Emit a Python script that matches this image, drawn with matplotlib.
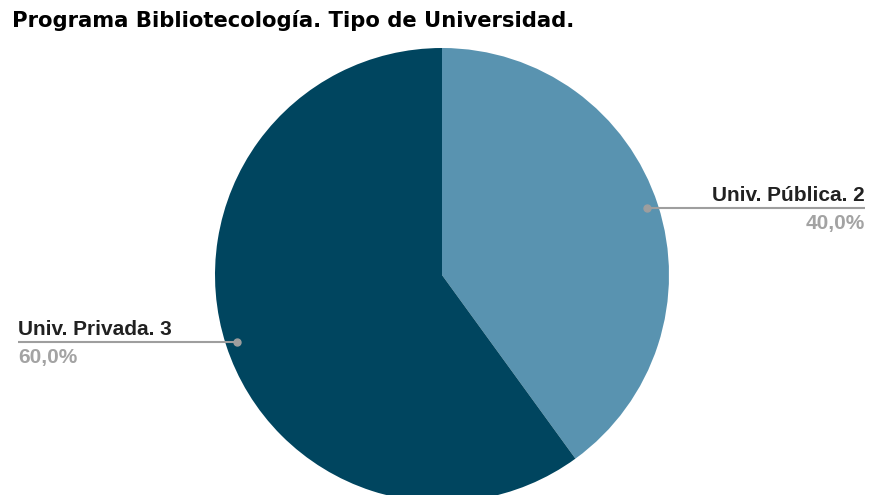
import matplotlib
matplotlib.use("Agg")
import matplotlib.pyplot as plt
import numpy as np

# datos
labels = ["Univ. Pública", "Univ. Privada"]
counts = [2, 3]
colors = ["#5993b0", "#00455f"]

W, H = 870, 495
fig = plt.figure(figsize=(W / 100, H / 100), dpi=100)
ax = fig.add_axes([0, 0, 1, 1])

cx, cy, r = 442, H - 275, 227
wedges, _ = ax.pie(counts, colors=colors, startangle=90, counterclock=False,
                   center=(cx, cy), radius=r, wedgeprops=dict(linewidth=0))
ax.set_xlim(0, W)
ax.set_ylim(0, H)
ax.set_aspect("equal")
ax.axis("off")

total = sum(counts)
line_col = "#9e9e9e"
lab_font = dict(family="Liberation Sans", weight="bold", fontsize=15)

for w, lab, n in zip(wedges, labels, counts):
    ang = np.deg2rad((w.theta1 + w.theta2) / 2)
    px = cx + 0.95 * r * np.cos(ang)
    py = cy + 0.95 * r * np.sin(ang)
    pct = f"{100 * n / total:.1f}%".replace(".", ",")
    if np.cos(ang) > 0:
        x_end, ha = 865, "right"
    else:
        x_end, ha = 18, "left"
    ax.plot([px, x_end], [py, py], color=line_col, lw=1.5, solid_capstyle="butt")
    ax.plot(px, py, "o", color=line_col, ms=5)
    ax.text(x_end, py + 7, f"{lab}. {n}", ha=ha, va="baseline", color="#212121", **lab_font)
    ax.text(x_end, py - 21, pct, ha=ha, va="baseline", color="#a3a3a3", **lab_font)

fig.text(12 / W, 1 - 27 / H, "Programa Bibliotecología. Tipo de Universidad.",
         ha="left", va="baseline", fontsize=15.2, weight="bold",
         family="DejaVu Sans", color="#000000")

fig.savefig("out.png", dpi=100)
